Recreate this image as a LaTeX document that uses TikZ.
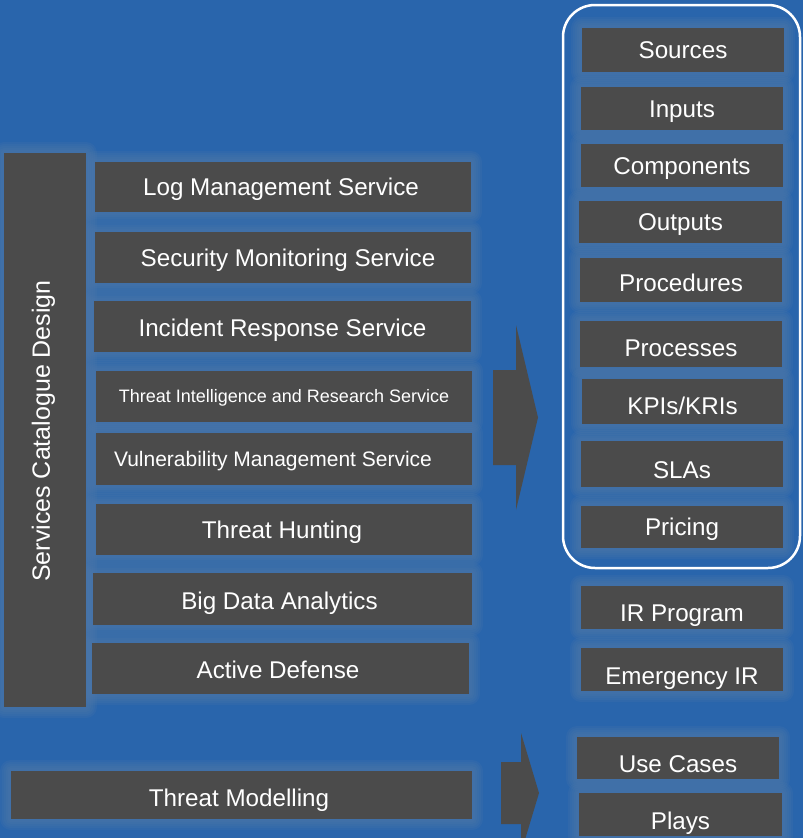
\documentclass[tikz,border=0pt]{standalone}
\usepackage{fontspec}
\setmainfont{Liberation Sans}
\usetikzlibrary{backgrounds}
\definecolor{bgblue}{RGB}{41,101,172}
\definecolor{haze}{RGB}{80,122,168}
\definecolor{slate}{RGB}{75,75,75}
\pgfdeclarelayer{glow}
\pgfsetlayers{background,glow,main}
\tikzset{
  box/.style={fill=slate, text=white, inner sep=0pt, outer sep=0pt,
    font=\fontsize{24.2bp}{28bp}\selectfont, text height=17.3bp, text depth=0pt},
  drop/.code={\pgfmathsetmacro\dropht{17.3+2*#1}%
    \edef\tmp{\noexpand\tikzset{text height=\dropht bp}}\tmp},
  blockarrow/.style={fill=slate},
  groupframe/.style={draw=white, line width=2.5bp, rounded corners=32bp},
  halo/.style={fill=haze, opacity=0.18},
}
\begin{document}
\begin{tikzpicture}[x=1bp, y=-1bp]
  \begin{pgfonlayer}{background}
    \fill[bgblue] (0,0) rectangle (803,838);
  \end{pgfonlayer}
  \useasboundingbox (0,0) rectangle (803,838);

  % left column
  \node[box, minimum width=82bp, minimum height=554bp] (scd) at (45,430) {};
  \node[rotate=90, text=white, inner sep=0pt, font=\fontsize{25bp}{29bp}\selectfont,
        text height=17.9bp, text depth=8pt] (scdtext) at (45,431) {Services Catalogue Design};

  % services
  \node[box, minimum width=376bp, minimum height=50bp] (log) at (283,187) {Log Management Service\hspace*{4bp}};
  \node[box, minimum width=376bp, minimum height=51bp] (secmon) at (283,257.5) {\hspace*{10bp}Security Monitoring Service};
  \node[box, drop=1.5, minimum width=377bp, minimum height=51bp] (incresp) at (282.5,326.5) {Incident Response Service};
  \node[box, font=\fontsize{18bp}{22bp}\selectfont, text height=12.9bp, minimum width=376bp, minimum height=51bp] (ti) at (284,396.5) {Threat Intelligence and Research Service};
  \node[box, font=\fontsize{21bp}{25bp}\selectfont, text height=15bp, minimum width=376bp, minimum height=52bp] (vuln) at (284,459) {Vulnerability Management Service\hspace*{22bp}};
  \node[box, minimum width=376bp, minimum height=51bp] (hunt) at (284,529.5) {Threat Hunting\hspace*{4bp}};
  \node[box, drop=2, minimum width=379bp, minimum height=52bp] (bigdata) at (282.5,599) {Big Data Analytics\hspace*{6bp}};
  \node[box, drop=1.5, minimum width=377bp, minimum height=51bp] (active) at (280.5,668.5) {Active Defense\hspace*{5bp}};
  \node[box, drop=3, minimum width=461bp, minimum height=48bp] (tm) at (241.5,795) {Threat Modelling\hspace*{5bp}};

  % service elements
  \node[box, minimum width=202bp, minimum height=44bp] (sources) at (683,50) {Sources};
  \node[box, minimum width=202bp, minimum height=43bp] (inputs) at (682,108.5) {Inputs};
  \node[box, minimum width=202bp, minimum height=43bp] (components) at (682,165.5) {Components};
  \node[box, minimum width=203bp, minimum height=42bp] (outputs) at (680.5,222) {Outputs};
  \node[box, drop=2.5, minimum width=202bp, minimum height=44bp] (procedures) at (681,280) {Procedures};
  \node[box, drop=3.5, minimum width=202bp, minimum height=46bp] (processes) at (681,344) {Processes};
  \node[box, drop=4, minimum width=201bp, minimum height=45bp] (kpis) at (682.5,401.5) {KPIs/KRIs};
  \node[box, drop=6, minimum width=202bp, minimum height=46bp] (slas) at (682,464) {SLAs};
  \node[box, minimum width=202bp, minimum height=42bp] (pricing) at (682,527) {Pricing};
  \node[box, drop=5.5, minimum width=202bp, minimum height=43bp] (irprog) at (682,607.5) {IR Program};
  \node[box, drop=6, minimum width=202bp, minimum height=43bp] (emerg) at (682,669.5) {Emergency IR};
  \node[box, drop=6, minimum width=202bp, minimum height=42bp] (usecases) at (678,758) {Use Cases};
  \node[box, drop=6.5, minimum width=203bp, minimum height=43bp] (plays) at (680.5,814.5) {Plays};

  % soft halo round every box
  \begin{pgfonlayer}{glow}
    \foreach \n in {scd,log,secmon,incresp,ti,vuln,hunt,bigdata,active,tm,
                    sources,inputs,components,outputs,procedures,processes,kpis,
                    slas,pricing,irprog,emerg,usecases,plays}{
      \foreach \d in {11,9,7,5,3}{
        \fill[halo, rounded corners=\d bp]
          ([xshift=-\d bp, yshift=-\d bp]\n.south west) rectangle
          ([xshift=\d bp, yshift=\d bp]\n.north east);
      }
    }
  \end{pgfonlayer}

  % grouping frame round the service elements
  \draw[groupframe] (563,5) rectangle (800,568);

  % block arrows
  \fill[blockarrow] (493,370) -- (516,370) -- (516,325) -- (538,417.5)
                    -- (516,510) -- (516,465) -- (493,465) -- cycle;
  \fill[blockarrow] (501,762) -- (521,762) -- (521,733) -- (539,793)
                    -- (521,853) -- (521,824) -- (501,824) -- cycle;
\end{tikzpicture}
\end{document}
